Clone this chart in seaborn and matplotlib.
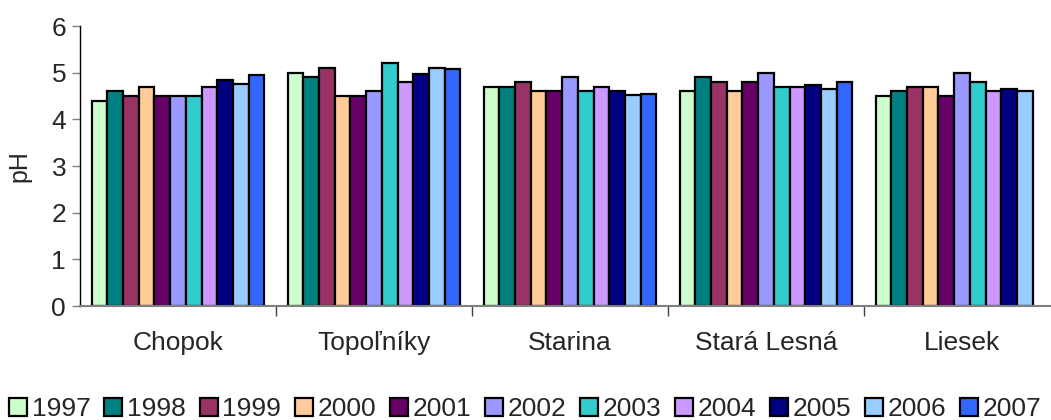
import numpy as np
import pandas as pd
import matplotlib
matplotlib.use("Agg")
import matplotlib.pyplot as plt
import seaborn as sns
from matplotlib.ticker import FixedLocator

stations = ["Chopok", "Topoľníky", "Starina", "Stará Lesná", "Liesek"]
years = ["1997", "1998", "1999", "2000", "2001", "2002", "2003", "2004", "2005", "2006", "2007"]

chopok = [4.4, 4.6, 4.5, 4.7, 4.5, 4.5, 4.5, 4.7, 4.85, 4.75, 4.94]
topolniky = [5.0, 4.9, 5.1, 4.5, 4.5, 4.6, 5.2, 4.8, 4.97, 5.09, 5.07]
starina = [4.7, 4.7, 4.8, 4.6, 4.6, 4.9, 4.6, 4.7, 4.6, 4.52, 4.55]
stara_lesna = [4.6, 4.9, 4.8, 4.6, 4.8, 5.0, 4.7, 4.7, 4.74, 4.64, 4.8]
liesek = [4.5, 4.6, 4.7, 4.7, 4.5, 5.0, 4.8, 4.6, 4.65, 4.6, np.nan]

colors = ["#CCFFCC", "#008080", "#993366", "#FFCC99", "#660066", "#9999FF",
          "#33CCCC", "#CC99FF", "#000080", "#99CCFF", "#3366FF"]

series = [chopok, topolniky, starina, stara_lesna, liesek]
rows = []
for st, vals in zip(stations, series):
    for yr, v in zip(years, vals):
        if not np.isnan(v):
            rows.append({"station": st, "year": yr, "pH": v})
df = pd.DataFrame(rows)

sns.set_style("white")
plt.rcParams["font.family"] = ["Liberation Sans", "DejaVu Sans"]

fig = plt.figure(figsize=(10.51, 4.20), dpi=100)
ax = fig.add_axes([80 / 1051, 114 / 420, 980 / 1051, 280 / 420])

sns.barplot(data=df, x="station", y="pH", hue="year", order=stations,
            hue_order=years, palette=colors, width=0.88, gap=0,
            edgecolor="black", linewidth=1.6, saturation=1, ax=ax, legend=True)

ax.set_xlim(-0.5, 4.5)
ax.set_ylim(0, 6)
ax.set_yticks(range(0, 7))
ax.set_xlabel("")
ax.set_ylabel("pH", fontsize=18, labelpad=14)
ax.tick_params(axis="y", labelsize=19, length=6, width=1, color="#808080",
               direction="out", left=True, pad=4)
ax.tick_params(axis="x", which="major", labelsize=19, length=0, pad=18)
ax.xaxis.set_minor_locator(FixedLocator([0.5, 1.5, 2.5, 3.5]))
ax.tick_params(axis="x", which="minor", length=7, width=1, color="#404040",
               direction="out", bottom=True)
for s in ["top", "right"]:
    ax.spines[s].set_visible(False)
ax.spines["left"].set_color("black")
ax.spines["left"].set_linewidth(1)
ax.spines["bottom"].set_color("#808080")
ax.spines["bottom"].set_linewidth(1.5)

handles, labels = ax.get_legend_handles_labels()
ax.get_legend().remove()
leg = fig.legend(handles, labels, loc="center", bbox_to_anchor=(0.5, 1 - 409 / 420),
                 ncol=11, frameon=False, fontsize=19,
                 handlelength=0.68, handleheight=0.68, handletextpad=0.18,
                 columnspacing=0.52, borderaxespad=0, borderpad=0)
for h in leg.legend_handles:
    h.set_edgecolor("black")
    h.set_linewidth(1.6)

fig.savefig("out.png", dpi=100)
